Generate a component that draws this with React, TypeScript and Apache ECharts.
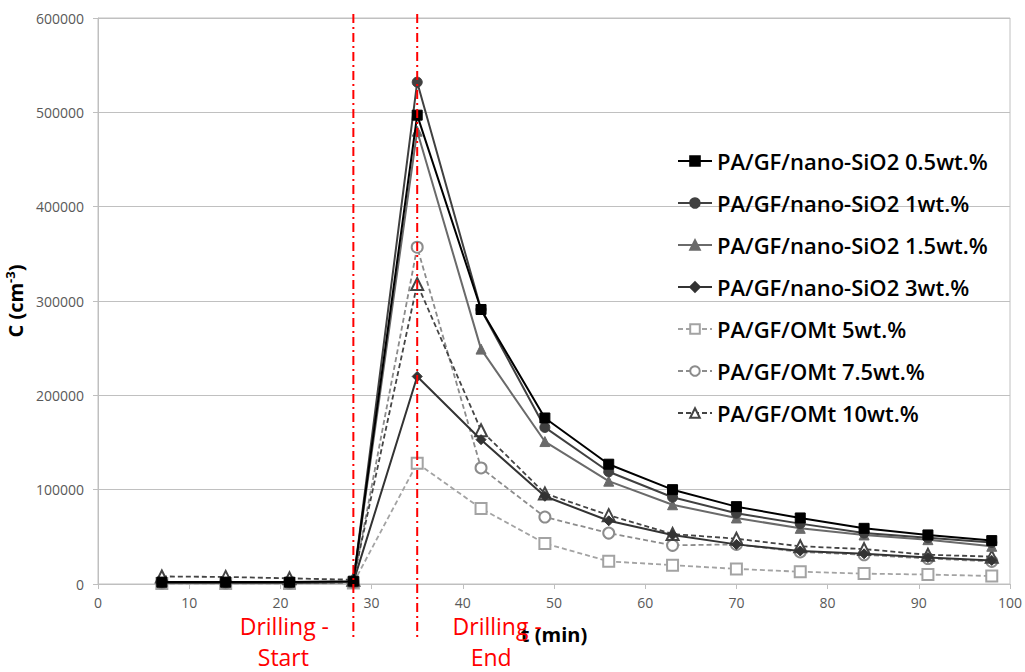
import React, { useEffect, useRef } from "react";
import * as echarts from "echarts";

const times = [7, 14, 21, 28, 35, 42, 49, 56, 63, 70, 77, 84, 91, 98];
const seriesNames = [
  "PA/GF/nano-SiO2 0.5wt.%",
  "PA/GF/nano-SiO2 1wt.%",
  "PA/GF/nano-SiO2 1.5wt.%",
  "PA/GF/nano-SiO2 3wt.%",
  "PA/GF/OMt 5wt.%",
  "PA/GF/OMt 7.5wt.%",
  "PA/GF/OMt 10wt.%",
];
const nano05 = [2000, 2000, 2000, 3000, 497000, 291000, 176000, 127000, 100000, 82000, 70000, 59000, 52000, 46000];
const nano1 = [1500, 1500, 1500, 2000, 532000, 291000, 166000, 119000, 92000, 75000, 64000, 54000, 49000, 44000];
const nano15 = [1500, 1500, 1500, 2000, 480000, 249000, 151000, 109000, 84000, 70000, 59000, 52000, 47000, 40000];
const nano3 = [1000, 1000, 1000, 2000, 220000, 153000, 93000, 67000, 52000, 42000, 35000, 32000, 28000, 25000];
const omt5 = [500, 500, 500, 1000, 128000, 80000, 43000, 24000, 20000, 16000, 13000, 11000, 10000, 8500];
const omt75 = [1000, 1000, 1000, 1500, 357000, 123000, 71000, 54000, 41000, 42000, 34000, 31000, 27000, 24000];
const omt10 = [8000, 7500, 6000, 4500, 318000, 163000, 96000, 73000, 53000, 48000, 40000, 37000, 31000, 29000];
const drillStart = 28;
const drillEnd = 35;
const drillStartLabel = ["Drilling -", "Start"];
const drillEndLabel = ["Drilling -", "End"];
const xTicks = { min: 0, max: 100, interval: 10 };
const yTicks = { min: 0, max: 600000, interval: 100000 };

const FONT = "'Open Sans', sans-serif";

function pairs(vals: number[]) {
  return times.map((t, i) => [t, vals[i]]);
}

export default function App() {
  const ref = useRef<HTMLDivElement>(null);
  useEffect(() => {
    if (!ref.current) return;
    const chart = echarts.init(ref.current, null, { renderer: "svg" });
    const mk = (
      name: string,
      vals: number[],
      color: string,
      symbol: string,
      size: number,
      dashed: boolean,
      z: number
    ) => ({
      name,
      type: "line",
      data: pairs(vals),
      symbol,
      symbolSize: size,
      z,
      lineStyle: { color, width: dashed ? 1.8 : 2, type: dashed ? [5, 3] : "solid" },
      itemStyle: { color, borderColor: color, borderWidth: dashed ? 2 : 1 },
      emphasis: { disabled: true },
    });
    const series = [
      mk(seriesNames[0], nano05, "#000000", "rect", 10, false, 9),
      mk(seriesNames[1], nano1, "#404040", "circle", 10, false, 8),
      mk(seriesNames[2], nano15, "#6a6a6a", "triangle", 10, false, 7),
      mk(seriesNames[3], nano3, "#333333", "diamond", 10, false, 6),
      mk(seriesNames[4], omt5, "#a3a3a3", "emptyRect", 11, true, 3),
      mk(seriesNames[5], omt75, "#8c8c8c", "emptyCircle", 11, true, 4),
      mk(seriesNames[6], omt10, "#444444", "emptyTriangle", 12, true, 5),
    ];
    chart.setOption({
      animation: false,
      grid: {
        left: 98,
        right: 15,
        top: 18,
        bottom: 88,
        outerBoundsMode: "none",
        containLabel: false,
        show: true,
        borderColor: "#c0c0c0",
        borderWidth: 1,
      },
      legend: {
        orient: "vertical",
        left: 672,
        top: 145,
        itemWidth: 34,
        itemHeight: 12,
        itemGap: 20,
        data: seriesNames,
        textStyle: { fontFamily: FONT, fontSize: 22, lineHeight: 22, fontWeight: 600, color: "#000" },
        selectedMode: false,
      },
      xAxis: {
        type: "value",
        ...xTicks,
        name: "t (min)",
        nameLocation: "middle",
        nameGap: 40,
        nameTextStyle: { fontFamily: FONT, fontSize: 20, fontWeight: "bold", color: "#000" },
        axisLine: { lineStyle: { color: "#bfbfbf" } },
        axisTick: { show: true, length: 5, lineStyle: { color: "#bfbfbf" } },
        axisLabel: { fontFamily: FONT, fontSize: 14, color: "#595959", margin: 11 },
        splitLine: { show: false },
      },
      yAxis: {
        type: "value",
        ...yTicks,
        name: "{a|C (cm}{b|-3}{a|)}",
        nameLocation: "middle",
        nameGap: 66,
        nameTextStyle: {
          rich: {
            a: { fontFamily: FONT, fontSize: 20, fontWeight: "bold", color: "#000" },
            b: { fontFamily: FONT, fontSize: 13, fontWeight: "bold", color: "#000", verticalAlign: "top", padding: [0, 0, 10, 0] },
          },
        },
        axisLine: { show: true, lineStyle: { color: "#bfbfbf" } },
        axisTick: { show: true, length: 5, lineStyle: { color: "#bfbfbf" } },
        axisLabel: { fontFamily: FONT, fontSize: 14, color: "#595959", margin: 14, formatter: (v: number) => String(v) },
        splitLine: { show: true, lineStyle: { color: "#c0c0c0", width: 1 } },
      },
      series,
    });

    const [xs, yTop] = chart.convertToPixel({ gridIndex: 0 }, [drillStart, yTicks.max]);
    const [xe] = chart.convertToPixel({ gridIndex: 0 }, [drillEnd, yTicks.max]);
    const lineBottom = 640;
    const red = "#ff0000";
    const vline = (x: number) => ({
      type: "line",
      shape: { x1: x, y1: yTop - 4, x2: x, y2: lineBottom },
      style: { stroke: red, lineWidth: 2, lineDash: [9, 4, 2, 4] },
      z: 20,
    });
    const txt = (x: number, y: number, text: string) => ({
      type: "text",
      x,
      y,
      style: {
        text,
        fill: red,
        font: `23px ${FONT}`,
        textAlign: "center",
        textVerticalAlign: "middle",
      },
      z: 20,
    });
    chart.setOption({
      graphic: [
        vline(xs),
        vline(xe),
        txt(xs - 69, 626, drillStartLabel[0]),
        txt(xs - 70, 657, drillStartLabel[1]),
        txt(xe + 80, 626, drillEndLabel[0]),
        txt(xe + 74, 657, drillEndLabel[1]),
      ],
    });
    return () => chart.dispose();
  }, []);
  return <div ref={ref} style={{ width: 1025, height: 672, position: "absolute", left: 0, top: 0 }} />;
}
